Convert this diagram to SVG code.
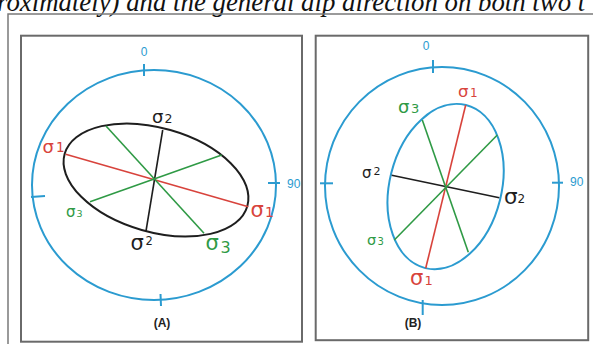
<svg xmlns="http://www.w3.org/2000/svg" width="593" height="344" viewBox="0 0 593 344">
<style>
.frame{fill:none;stroke:#7a7a7a;stroke-width:1.5}
.panel{fill:#fff;stroke:#6a6a6a;stroke-width:2}
.blue{fill:none;stroke:#2b9bd0;stroke-width:2}
.tick{stroke:#2b9bd0;stroke-width:2}
.blk{fill:none;stroke:#1e1e1e;stroke-width:2}
.red{stroke:#d8433c;stroke-width:1.6}
.grn{stroke:#2f9a45;stroke-width:1.6}
.k{stroke:#1e1e1e;stroke-width:1.6}
.deg{font-family:"Liberation Sans",Arial,sans-serif;font-size:12px;fill:#2b9bd0}
.s{font-family:"DejaVu Sans","Liberation Sans",sans-serif}
.tr{fill:#d8433c}.tg{fill:#2f9a45}.tk{fill:#1e1e1e}
.cap{font-family:"Liberation Sans",Arial,sans-serif;font-size:12px;font-weight:bold;fill:#222;text-anchor:middle}
.top{font-family:"Liberation Serif","Times New Roman",serif;font-style:italic;font-size:26.8px;fill:#111}
</style>
<rect width="593" height="344" fill="#fff"/>
<text class="top" x="-3" y="11">roximately) and the general dip direction on both two t</text>
<path class="frame" d="M8,344 V14 H593"/>

<g id="panelA">
<rect class="panel" x="21" y="35.7" width="281" height="306"/>
<ellipse class="blue" cx="154" cy="185" rx="122" ry="115"/>
<line class="tick" x1="144" y1="64" x2="144" y2="76"/>
<line class="tick" x1="31" y1="197" x2="45" y2="196"/>
<line class="tick" x1="268" y1="183" x2="280" y2="183"/>
<line class="tick" x1="160.5" y1="294" x2="161" y2="306"/>
<text class="deg" x="144" y="56" text-anchor="middle">0</text>
<text class="deg" x="287" y="188">90</text>
<ellipse class="blk" cx="156" cy="180" rx="95" ry="52" transform="rotate(16 156 180)"/>
</g>

<g id="panelB">
<rect class="panel" x="315.7" y="35.7" width="272.5" height="304.5"/>
<ellipse class="blue" cx="442" cy="186" rx="117" ry="119"/>
<line class="tick" x1="433" y1="60" x2="433" y2="73"/>
<line class="tick" x1="320" y1="183.3" x2="333" y2="183.3"/>
<line class="tick" x1="552" y1="182.7" x2="563" y2="182.7"/>
<line class="tick" x1="422.7" y1="300" x2="422.7" y2="315"/>
<text class="deg" x="426" y="50" text-anchor="middle">0</text>
<text class="deg" x="570" y="186">90</text>
<ellipse class="blue" cx="445.6" cy="186.6" rx="56" ry="84" transform="rotate(14 445.6 186.6)"/>
</g>

<g id="connectors">
<line class="red" x1="65.7" y1="154.3" x2="248.3" y2="206.7"/>
<line class="k" x1="162.7" y1="130" x2="146" y2="231"/>
<line class="grn" x1="106" y1="126" x2="204" y2="233.3"/>
<line class="grn" x1="90" y1="201.7" x2="221.7" y2="155"/>
<line class="red" x1="465.7" y1="105" x2="425.7" y2="268.3"/>
<line class="k" x1="391.7" y1="175.3" x2="499.3" y2="197.7"/>
<line class="grn" x1="422.3" y1="120" x2="468.3" y2="252.3"/>
<line class="grn" x1="497.3" y1="135" x2="394.3" y2="240"/>
</g>

<g id="labelsA">
<text class="s tr" x="42.5" y="153" font-size="18">σ</text><text class="s tr" x="56" y="151.7" font-size="13.5">1</text>
<text class="s tk" x="152" y="122.5" font-size="18">σ</text><text class="s tk" x="164.5" y="122.5" font-size="12.5">2</text>
<text class="s tr" x="250.5" y="216.7" font-size="21">σ</text><text class="s tr" x="265" y="216.7" font-size="14">1</text>
<text class="s tg" x="66" y="216.7" font-size="15">σ</text><text class="s tg" x="76.5" y="217.3" font-size="9.5">3</text>
<text class="s tk" x="130.5" y="250" font-size="21">σ</text><text class="s tk" x="145.5" y="245" font-size="11.5">2</text>
<text class="s tg" x="205.5" y="250" font-size="21">σ</text><text class="s tg" x="220.5" y="253.3" font-size="16">3</text>
<text class="cap" x="162" y="327">(A)</text>
</g>

<g id="labelsB">
<text class="s tr" x="458" y="97" font-size="16.5">σ</text><text class="s tr" x="470" y="96.5" font-size="12">1</text>
<text class="s tg" x="398" y="113" font-size="18">σ</text><text class="s tg" x="411" y="113" font-size="13">3</text>
<text class="s tk" x="362" y="178" font-size="15">σ</text><text class="s tk" x="373.5" y="174.5" font-size="11">2</text>
<text class="s tk" x="504" y="204" font-size="21.5">σ</text><text class="s tk" x="517.5" y="203.3" font-size="12">2</text>
<text class="s tg" x="367" y="245" font-size="14.5">σ</text><text class="s tg" x="377.5" y="245" font-size="10">3</text>
<text class="s tr" x="410" y="285" font-size="21">σ</text><text class="s tr" x="424.5" y="285" font-size="13">1</text>
<text class="cap" x="413" y="327">(B)</text>
</g>
</svg>
